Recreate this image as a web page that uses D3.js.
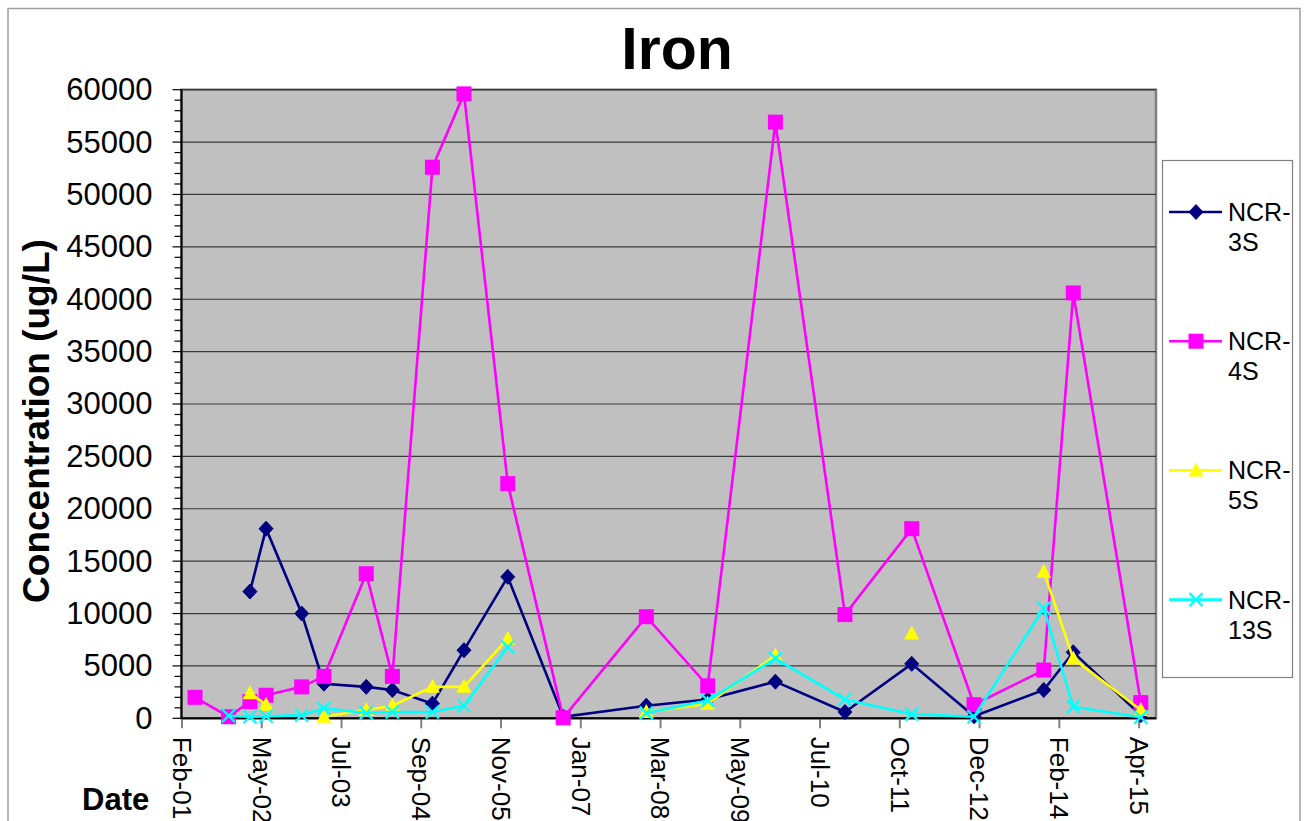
<!DOCTYPE html>
<html>
<head>
<meta charset="utf-8">
<script src="https://cdn.jsdelivr.net/npm/d3@7"></script>
<style>
  html, body { margin: 0; padding: 0; background: #fff; }
  svg { display: block; font-family: "Liberation Sans", Arial, sans-serif; }
</style>
</head>
<body>
<svg id="chart" width="1304" height="821"></svg>
<script>
// ---------- data ----------
const sampleDates = [
  "2001-05-12", "2001-11-09", "2002-03-04", "2002-05-30", "2002-12-08",
  "2003-04-07", "2003-11-21", "2004-04-10", "2004-11-12", "2005-05-01",
  "2005-12-23", "2006-10-18", "2008-01-09", "2008-12-05", "2009-12-05",
  "2010-12-15", "2011-12-10", "2012-11-10", "2013-11-21", "2014-04-29",
  "2015-04-28"
];
const ncr3S  = [null, null, 12100, 18100, 10000, 3300, 3000, 2700, 1400, 6500, 13500, 150, 1200, 1800, 3500, 600, 5200, 200, 2700, 6300, 300];
const ncr4S  = [2000, 150, 1600, 2200, 3000, 4000, 13800, 4000, 52600, 59600, 22400, 50, 9700, 3100, 56900, 9900, 18100, 1300, 4600, 40600, 1500];
const ncr5S  = [null, null, 2400, 1300, null, 150, 800, 1200, 3000, 3000, 7600, null, 600, 1400, 6000, null, 8100, null, 14000, 5700, 800];
const ncr13S = [null, 250, 150, 200, 300, 950, 500, 600, 600, 1200, 6800, null, 500, 1700, 5700, 1800, 400, 150, 10500, 1100, 100];

const seriesNames = ["NCR-3S", "NCR-4S", "NCR-5S", "NCR-13S"];
const seriesColors = ["#000080", "#FF00FF", "#FFFF00", "#00FFFF"];
const seriesMarkers = ["diamond", "square", "triangle", "x"];

const xTickDates = [
  "2001-02-28", "2002-05-04", "2003-07-08", "2004-09-10", "2005-11-14",
  "2007-01-18", "2008-03-23", "2009-05-27", "2010-07-31", "2011-10-04",
  "2012-12-07", "2014-02-10", "2015-04-16"
];
const xTickLabels = ["Feb-01", "May-02", "Jul-03", "Sep-04", "Nov-05", "Jan-07", "Mar-08", "May-09", "Jul-10", "Oct-11", "Dec-12", "Feb-14", "Apr-15"];
const yTicks = [0, 5000, 10000, 15000, 20000, 25000, 30000, 35000, 40000, 45000, 50000, 55000, 60000];
const xDomain = ["2001-02-28", "2015-07-19"];
const yDomain = [0, 60000];

// ---------- layout ----------
const parse = d3.utcParse("%Y-%m-%d");
const svg = d3.select("#chart");
const P = { left: 181.5, right: 1156, top: 89.7, bottom: 718.3 };

const x = d3.scaleUtc().domain(xDomain.map(parse)).range([P.left, P.right]);
const y = d3.scaleLinear().domain(yDomain).range([P.bottom, P.top]);

const FONT = '"Liberation Sans", Arial, sans-serif';

// outer chart border
svg.append("rect").attr("x", 0).attr("y", 0).attr("width", 1304).attr("height", 821).attr("fill", "#fff");
svg.append("rect")
  .attr("x", 8).attr("y", 8.5).attr("width", 1292).attr("height", 830)
  .attr("fill", "none").attr("stroke", "#a0a0a0").attr("stroke-width", 1.5);

// plot area
svg.append("rect")
  .attr("x", P.left).attr("y", P.top)
  .attr("width", P.right - P.left).attr("height", P.bottom - P.top)
  .attr("fill", "#C0C0C0").attr("stroke", "#808080").attr("stroke-width", 2.5);

// gridlines
svg.append("g").selectAll("line").data(yTicks.filter(v => v > 0)).join("line")
  .attr("x1", P.left).attr("x2", P.right)
  .attr("y1", d => y(d)).attr("y2", d => y(d))
  .attr("stroke", "#3a3a3a").attr("stroke-width", 1.2);

// y axis with minor ticks
const yMinor = d3.range(0, 60001, 1000);
svg.append("g").selectAll("line").data(yMinor).join("line")
  .attr("x1", d => (d % 5000 === 0) ? P.left - 9 : P.left - 7).attr("x2", P.left)
  .attr("y1", d => y(d)).attr("y2", d => y(d))
  .attr("stroke", "#000").attr("stroke-width", 1.2);

const yAxis = d3.axisLeft(y).tickValues(yTicks).tickSize(0).tickPadding(29).tickFormat(d3.format("d"));
const gy = svg.append("g").attr("transform", `translate(${P.left},0)`).call(yAxis);
gy.select(".domain").remove();
gy.selectAll("text").attr("font-family", FONT).attr("font-size", 31).attr("fill", "#000");

// x axis
const xAxis = d3.axisBottom(x).tickValues(xTickDates.map(parse)).tickSize(10)
  .tickFormat((d, i) => xTickLabels[i]);
const gx = svg.append("g").attr("transform", `translate(0,${P.bottom})`).call(xAxis);
gx.select(".domain").remove();
gx.selectAll(".tick line").attr("stroke", "#808080").attr("stroke-width", 2);
gx.selectAll("text")
  .attr("font-family", FONT).attr("font-size", 26).attr("fill", "#000")
  .attr("text-anchor", "start")
  .attr("transform", "rotate(90)")
  .attr("x", 18.5).attr("y", 0).attr("dy", "0.35em");

// axis lines
svg.append("line").attr("x1", P.left).attr("x2", P.left).attr("y1", P.top).attr("y2", P.bottom)
  .attr("stroke", "#000").attr("stroke-width", 2);
svg.append("line").attr("x1", P.left).attr("x2", P.right).attr("y1", P.bottom).attr("y2", P.bottom)
  .attr("stroke", "#000").attr("stroke-width", 2);

// ---------- series ----------
const seriesValues = [ncr3S, ncr4S, ncr5S, ncr13S];
const dates = sampleDates.map(parse);

function drawMarker(g, type, color, cx, cy) {
  if (type === "diamond") {
    g.append("path").attr("d", `M${cx},${cy - 7.5}L${cx + 7},${cy}L${cx},${cy + 7.5}L${cx - 7},${cy}Z`)
      .attr("fill", color).attr("stroke", color).attr("stroke-width", 1);
  } else if (type === "square") {
    g.append("rect").attr("x", cx - 7.5).attr("y", cy - 7.5).attr("width", 15).attr("height", 15)
      .attr("fill", color);
  } else if (type === "triangle") {
    g.append("path").attr("d", `M${cx},${cy - 8}L${cx + 7.5},${cy + 6}L${cx - 7.5},${cy + 6}Z`)
      .attr("fill", color);
  } else if (type === "x") {
    g.append("path").attr("d", `M${cx - 6.5},${cy - 6.5}L${cx + 6.5},${cy + 6.5}M${cx - 6.5},${cy + 6.5}L${cx + 6.5},${cy - 6.5}`)
      .attr("stroke", color).attr("stroke-width", 2.2).attr("fill", "none");
  }
}

seriesValues.forEach((vals, si) => {
  const pts = vals.map((v, i) => ({ d: dates[i], v }));
  const line = d3.line().defined(p => p.v != null).x(p => x(p.d)).y(p => y(p.v));
  const g = svg.append("g");
  g.append("path").datum(pts).attr("d", line)
    .attr("fill", "none").attr("stroke", seriesColors[si]).attr("stroke-width", 2.6)
    .attr("stroke-linejoin", "miter");
  pts.filter(p => p.v != null).forEach(p => drawMarker(g, seriesMarkers[si], seriesColors[si], x(p.d), y(p.v)));
});

// ---------- titles ----------
svg.append("text").attr("x", 677).attr("y", 69).attr("text-anchor", "middle")
  .attr("font-family", FONT).attr("font-weight", "bold").attr("font-size", 59).text("Iron");

svg.append("text").attr("transform", "translate(49,421) rotate(-90)").attr("text-anchor", "middle")
  .attr("font-family", FONT).attr("font-weight", "bold").attr("font-size", 37).text("Concentration (ug/L)");

svg.append("text").attr("x", 82).attr("y", 810)
  .attr("font-family", FONT).attr("font-weight", "bold").attr("font-size", 31).text("Date");

// ---------- legend ----------
const lg = svg.append("g");
lg.append("rect").attr("x", 1162.5).attr("y", 160.5).attr("width", 130).attr("height", 517)
  .attr("fill", "#fff").attr("stroke", "#808080").attr("stroke-width", 1.2);
seriesNames.forEach((name, i) => {
  const cy = 212 + i * 129.2;
  lg.append("line").attr("x1", 1169).attr("x2", 1222).attr("y1", cy).attr("y2", cy)
    .attr("stroke", seriesColors[i]).attr("stroke-width", 2.6);
  drawMarker(lg, seriesMarkers[i], seriesColors[i], 1196, cy);
  const parts = [name.split("-")[0] + "-", name.split("-")[1]];
  const t = lg.append("text").attr("font-family", FONT).attr("font-size", 25).attr("fill", "#000");
  t.append("tspan").attr("x", 1228).attr("y", cy + 9).text(parts[0]);
  t.append("tspan").attr("x", 1228).attr("y", cy + 39).text(parts[1]);
});
</script>
</body>
</html>
